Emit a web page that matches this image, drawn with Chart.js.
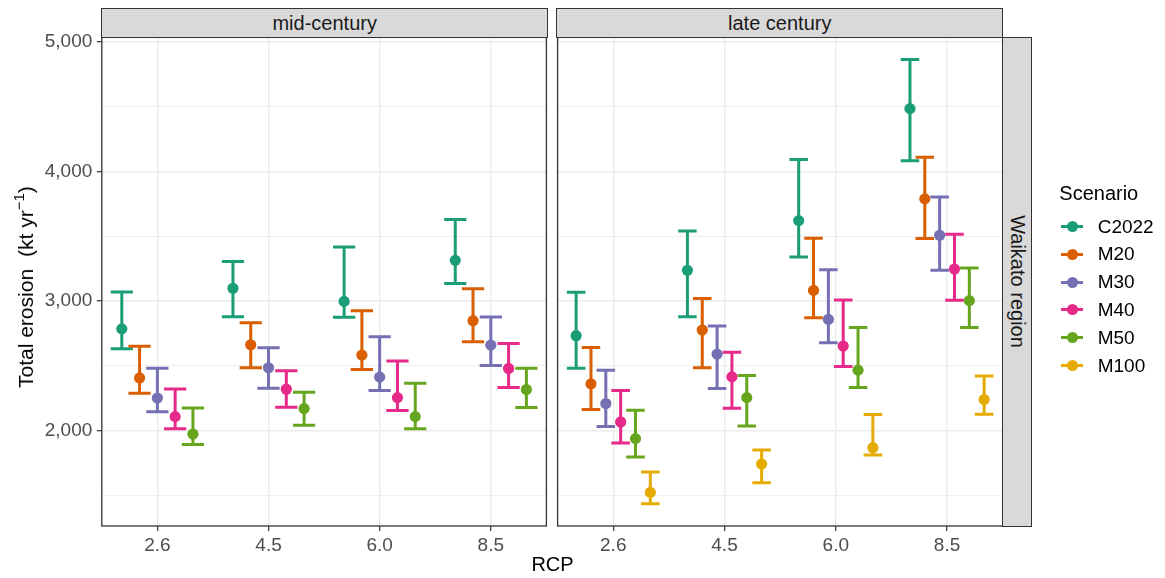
<!DOCTYPE html>
<html>
<head>
<meta charset="utf-8">
<script src="https://cdn.jsdelivr.net/npm/chart.js@4.4.1/dist/chart.umd.min.js"></script>
<style>
  html, body { margin: 0; padding: 0; background: #ffffff; }
  #wrap { position: relative; width: 1165px; height: 578px; overflow: hidden;
          font-family: "Liberation Sans", Arial, Helvetica, sans-serif; }
  canvas { position: absolute; top: 0; }
  #cA { left: 0; }
  #cB { left: 552px; }
  .strip { position: absolute; background: #D9D9D9; border: 1.3px solid #333333; box-sizing: border-box;
           color: #1A1A1A; font-size: 20px; display: flex; align-items: center; justify-content: center;
           white-space: nowrap; }
  .title { position: absolute; color: #000; font-size: 20px; white-space: nowrap; }
  .legtitle { position: absolute; color: #000; font-size: 20px; white-space: nowrap; }
  .legitem { position: absolute; height: 20px; }
  .legline { position: absolute; height: 3px; width: 22px; top: 8.5px; left: 0; }
  .legdot { position: absolute; width: 11px; height: 11px; border-radius: 50%; top: 4.5px; left: 5.5px; }
  .leglabel { position: absolute; left: 36.7px; top: -1px; font-size: 19px; color: #000; white-space: nowrap; line-height: 22px; }
</style>
</head>
<body>
<div id="wrap">
  <canvas id="cA" width="552" height="578"></canvas>
  <canvas id="cB" width="613" height="578"></canvas>
</div>
<script>
// ---------------- data ----------------
const rcp = ['2.6', '4.5', '6.0', '8.5'];
const scenarios = ['C2022', 'M20', 'M30', 'M40', 'M50', 'M100'];
const periods = ['mid-century', 'late century'];
const region = 'Waikato region';
const yMajorTicks = [2000, 3000, 4000, 5000];
const yMinorTicks = [1500, 2500, 3500, 4500];

// mid-century (rows: C2022, M20, M30, M40, M50; columns: RCP 2.6, 4.5, 6.0, 8.5)
const midMean = [
  [2786, 3099, 2998, 3315],
  [2407, 2663, 2583, 2849],
  [2252, 2485, 2413, 2660],
  [2108, 2320, 2255, 2480],
  [1974, 2170, 2108, 2317]
];
const midLow = [
  [2632, 2880, 2875, 3137],
  [2288, 2485, 2472, 2686],
  [2146, 2328, 2310, 2503],
  [2015, 2181, 2155, 2333],
  [1893, 2041, 2015, 2178]
];
const midHigh = [
  [3070, 3307, 3418, 3630],
  [2652, 2833, 2926, 3096],
  [2481, 2640, 2725, 2877],
  [2322, 2462, 2537, 2673],
  [2175, 2297, 2366, 2482]
];

// late century (rows: C2022, M20, M30, M40, M50, M100)
const lateMean = [
  [2733, 3238, 3622, 4487],
  [2361, 2777, 3083, 3790],
  [2209, 2591, 2859, 3509],
  [2067, 2415, 2653, 3248],
  [1938, 2255, 2467, 3004],
  [1523, 1742, 1868, 2240]
];
const lateLow = [
  [2482, 2880, 3341, 4084],
  [2163, 2485, 2872, 3483],
  [2031, 2325, 2679, 3238],
  [1905, 2173, 2495, 3006],
  [1796, 2036, 2333, 2797],
  [1435, 1598, 1812, 2126]
];
const lateHigh = [
  [3068, 3542, 4094, 4866],
  [2642, 3020, 3486, 4112],
  [2467, 2808, 3243, 3805],
  [2310, 2606, 3009, 3517],
  [2157, 2426, 2797, 3256],
  [1680, 1850, 2124, 2421]
];

// ---------------- styles ----------------
const colors = ['#1B9E77', '#D95F02', '#7570B3', '#E7298A', '#66A61E', '#E6AB02'];
const FONT = '"Liberation Sans", Arial, Helvetica, sans-serif';
const DODGE = 0.8;
const ERR_W = 1.0;

// shared y range (ggplot-like 5% expansion)
const allLo = midLow.flat().concat(lateLow.flat());
const allHi = midHigh.flat().concat(lateHigh.flat());
const dMin = Math.min(...allLo), dMax = Math.max(...allHi);
const yMin = dMin - 0.05 * (dMax - dMin);
const yMax = dMax + 0.05 * (dMax - dMin);
const yAllTicks = yMinorTicks.concat(yMajorTicks).sort((a, b) => a - b);

const errorBarPlugin = {
  id: 'errbars',
  beforeDatasetsDraw(chart) {
    const { ctx } = chart;
    const xs = chart.scales.x, ys = chart.scales.y;
    ctx.save();
    chart.data.datasets.forEach((ds) => {
      ctx.strokeStyle = ds.borderColor;
      ctx.lineWidth = 3;
      ctx.lineCap = 'butt';
      ds.data.forEach(p => {
        const px = xs.getPixelForValue(p.x);
        const half = xs.getPixelForValue(p.x + ds.capWidth / 2) - px;
        const yl = ys.getPixelForValue(p.lo), yh = ys.getPixelForValue(p.hi);
        ctx.beginPath();
        ctx.moveTo(px, yl); ctx.lineTo(px, yh);
        ctx.moveTo(px - half, yl); ctx.lineTo(px + half, yl);
        ctx.moveTo(px - half, yh); ctx.lineTo(px + half, yh);
        ctx.stroke();
      });
    });
    ctx.restore();
  },
  afterDraw(chart) {
    const { ctx, chartArea: a } = chart;
    ctx.save();
    ctx.strokeStyle = '#333333';
    ctx.lineWidth = 1.3;
    ctx.strokeRect(a.left, a.top, a.right - a.left, a.bottom - a.top);
    ctx.restore();
  }
};

function makeChart(id, mean, low, high, showY, pad) {
  const n = mean.length;
  const datasets = mean.map((row, j) => ({
    label: scenarios[j],
    data: row.map((v, i) => ({ x: i + (j - (n - 1) / 2) * DODGE / n, y: v, lo: low[j][i], hi: high[j][i] })),
    backgroundColor: colors[j],
    borderColor: colors[j],
    pointRadius: 5.6,
    pointHoverRadius: 5.6,
    pointBorderWidth: 0,
    borderWidth: 0,
    showLine: false,
    capWidth: ERR_W / n
  }));
  return new Chart(document.getElementById(id), {
    type: 'scatter',
    data: { datasets },
    options: {
      responsive: false,
      animation: false,
      devicePixelRatio: 1,
      events: [],
      layout: { padding: pad },
      plugins: { legend: { display: false }, tooltip: { enabled: false } },
      scales: {
        x: {
          type: 'linear', min: -0.5, max: 3.5,
          afterBuildTicks: s => { s.ticks = rcp.map((_, i) => ({ value: i })); },
          afterFit: s => { s.height = 52; },
          border: { display: false },
          grid: { color: '#EBEBEB', lineWidth: 1.4, tickColor: '#333333', tickLength: 5, tickWidth: 1.2 },
          ticks: { callback: v => rcp[v] !== undefined ? rcp[v] : '', color: '#4D4D4D',
                   font: { family: FONT, size: 19 }, padding: 3, maxRotation: 0, autoSkip: false }
        },
        y: {
          type: 'linear', min: yMin, max: yMax,
          afterBuildTicks: s => { s.ticks = yAllTicks.map(v => ({ value: v })); },
          afterFit: s => { s.width = showY ? 101.8 : 0; },
          border: { display: false },
          grid: {
            color: '#EBEBEB',
            lineWidth: c => (c.tick && yMajorTicks.includes(c.tick.value)) ? 1.4 : 0.8,
            tickColor: c => (c.tick && yMajorTicks.includes(c.tick.value)) ? '#333333' : 'rgba(0,0,0,0)',
            tickLength: 5, tickWidth: 1.2,
            drawTicks: showY
          },
          ticks: {
            display: showY,
            callback: v => yMajorTicks.includes(v) ? v.toLocaleString('en-US') : '',
            color: '#4D4D4D', font: { family: FONT, size: 19 }, padding: 4.5, autoSkip: false
          }
        }
      }
    },
    plugins: [errorBarPlugin]
  });
}

makeChart('cA', midMean, midLow, midHigh, true, { top: 37.3, right: 4.5, bottom: 0, left: 0 });
makeChart('cB', lateMean, lateLow, lateHigh, false, { top: 37.3, right: 162.3, bottom: 0, left: 4.7 });

// ---------------- text: strips, titles, legend ----------------
const wrap = document.getElementById('wrap');
function addDiv(cls, html, style) {
  const d = document.createElement('div');
  d.className = cls; d.innerHTML = html;
  Object.assign(d.style, style);
  wrap.appendChild(d);
  return d;
}
addDiv('strip', periods[0], { left: '101.2px', top: '8.3px', width: '447px', height: '29.7px' });
addDiv('strip', periods[1], { left: '556.1px', top: '8.3px', width: '447.3px', height: '29.7px' });
const rs = addDiv('strip', '', { left: '1002.1px', top: '36.7px', width: '29.7px', height: '490px' });
const rsTxt = document.createElement('span');
rsTxt.textContent = region;
rsTxt.style.transform = 'rotate(90deg)';
rsTxt.style.display = 'inline-block';
rs.appendChild(rsTxt);

addDiv('title', 'Total erosion<span style="display:inline-block;width:12px"></span>(kt yr<sup style="font-size:15px;vertical-align:0.6em;line-height:0">\u22121</sup>)',
  { left: '26px', top: '286.5px', fontSize: '21px', transform: 'translate(-50%,-50%) rotate(-90deg)' });
addDiv('title', 'RCP', { left: '552.5px', top: '564px', transform: 'translate(-50%,-50%)' });

addDiv('legtitle', 'Scenario', { left: '1059.3px', top: '193.3px', transform: 'translateY(-50%)' });
scenarios.forEach((s, i) => {
  const it = addDiv('legitem', '', { left: '1061px', top: (226.5 + i * 27.8 - 10) + 'px', width: '100px' });
  const ln = document.createElement('div'); ln.className = 'legline'; ln.style.background = colors[i]; it.appendChild(ln);
  const dt = document.createElement('div'); dt.className = 'legdot'; dt.style.background = colors[i]; it.appendChild(dt);
  const lb = document.createElement('div'); lb.className = 'leglabel'; lb.textContent = s; it.appendChild(lb);
});
</script>
</body>
</html>
